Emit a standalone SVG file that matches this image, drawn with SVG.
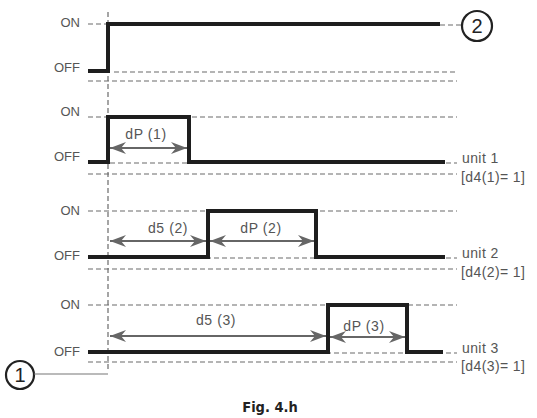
<svg xmlns="http://www.w3.org/2000/svg" width="537" height="418" viewBox="0 0 537 418">
<style>
.lbl{font-family:"Liberation Sans",Arial,sans-serif;font-size:14px;letter-spacing:0.4px;fill:#555}
.lvl{font-family:"Liberation Sans",Arial,sans-serif;font-size:13px;fill:#555;text-anchor:end}
.ann{font-family:"Liberation Sans",Arial,sans-serif;font-size:14px;letter-spacing:0.6px;fill:#555;text-anchor:middle}
.dash{stroke:#6a6a6a;stroke-width:1.2;stroke-dasharray:5 3;fill:none}
.sig{stroke:#1e1e1e;stroke-width:4;fill:none;stroke-linejoin:miter}
.arr{stroke:#666;stroke-width:1.8;fill:none;marker-start:url(#ah);marker-end:url(#ah)}
.circ{fill:#fff;stroke:#222;stroke-width:2.2}
.num{font-family:"Liberation Sans",Arial,sans-serif;font-size:20px;fill:#222;text-anchor:middle}
</style>
<defs>
<marker id="ah" markerUnits="userSpaceOnUse" markerWidth="18" markerHeight="14" refX="16" refY="7" orient="auto-start-reverse">
<path d="M0,1 L16,7 L0,13 L5,7 Z" fill="#666"/>
</marker>
</defs>

<g id="guides">
<line class="dash" x1="108" y1="12" x2="108" y2="372"/>
</g>

<g id="panel1">
<text class="lvl" x="80" y="27">ON</text>
<text class="lvl" x="80" y="72">OFF</text>
<line class="dash" x1="88" y1="24" x2="106" y2="24"/>
<line class="dash" x1="440" y1="25" x2="462" y2="25"/>
<line class="dash" x1="114" y1="72" x2="457" y2="72"/>
<line class="dash" x1="88" y1="81" x2="457" y2="81"/>
<path class="sig" d="M88,71 H108 V24 H440"/>
</g>

<g id="marker2">
<circle class="circ" cx="477" cy="26" r="15"/>
<text class="num" x="477" y="33">2</text>
</g>

<g id="unit1">
<text class="lvl" x="80" y="116">ON</text>
<text class="lvl" x="80" y="161">OFF</text>
<line class="dash" x1="88" y1="117" x2="457" y2="117"/>
<line class="dash" x1="110" y1="163" x2="457" y2="163"/>
<line class="dash" x1="88" y1="174" x2="457" y2="174"/>
<path class="sig" d="M88,162 H108 V117 H189 V162 H445"/>
<text class="ann" x="146" y="139">dP (1)</text>
<text class="lbl" x="462" y="163">unit 1</text>
<text class="lbl" x="461" y="182">[d4(1)= 1]</text>
</g>

<g id="unit2">
<text class="lvl" x="80" y="215">ON</text>
<text class="lvl" x="80" y="260">OFF</text>
<line class="dash" x1="88" y1="211" x2="457" y2="211"/>
<line class="dash" x1="110" y1="258" x2="457" y2="258"/>
<line class="dash" x1="88" y1="269" x2="457" y2="269"/>
<path class="sig" d="M88,257 H208 V211 H316 V257 H445"/>
<text class="ann" x="168" y="233">d5 (2)</text>
<text class="ann" x="261" y="233">dP (2)</text>
<text class="lbl" x="462" y="258">unit 2</text>
<text class="lbl" x="461" y="277">[d4(2)= 1]</text>
</g>

<g id="unit3">
<text class="lvl" x="80" y="309">ON</text>
<text class="lvl" x="80" y="356">OFF</text>
<line class="dash" x1="88" y1="305" x2="457" y2="305"/>
<line class="dash" x1="110" y1="353" x2="457" y2="353"/>
<line class="dash" x1="88" y1="362" x2="457" y2="362"/>
<path class="sig" d="M88,352 H328 V305 H407 V352 H443"/>
<text class="ann" x="216" y="325">d5 (3)</text>
<text class="ann" x="364" y="331">dP (3)</text>
<text class="lbl" x="462" y="353">unit 3</text>
<text class="lbl" x="461" y="371">[d4(3)= 1]</text>
</g>

<g id="marker1">
<circle class="circ" cx="20" cy="375" r="14"/>
<text class="num" x="20" y="382">1</text>
</g>

<g id="connectors">
<line x1="34" y1="374" x2="108" y2="374" stroke="#777" stroke-width="1.2"/>
<line class="arr" x1="110" y1="148" x2="187" y2="148"/>
<line class="arr" x1="110" y1="241" x2="206" y2="241"/>
<line class="arr" x1="210" y1="241" x2="314" y2="241"/>
<line class="arr" x1="110" y1="336" x2="326" y2="336"/>
<line class="arr" x1="330" y1="337" x2="405" y2="337"/>
</g>

<text x="270" y="412" font-family="'DejaVu Sans Condensed','DejaVu Sans',sans-serif" font-stretch="condensed" font-weight="bold" font-size="14.5" fill="#222" text-anchor="middle">Fig. 4.h</text>
</svg>
